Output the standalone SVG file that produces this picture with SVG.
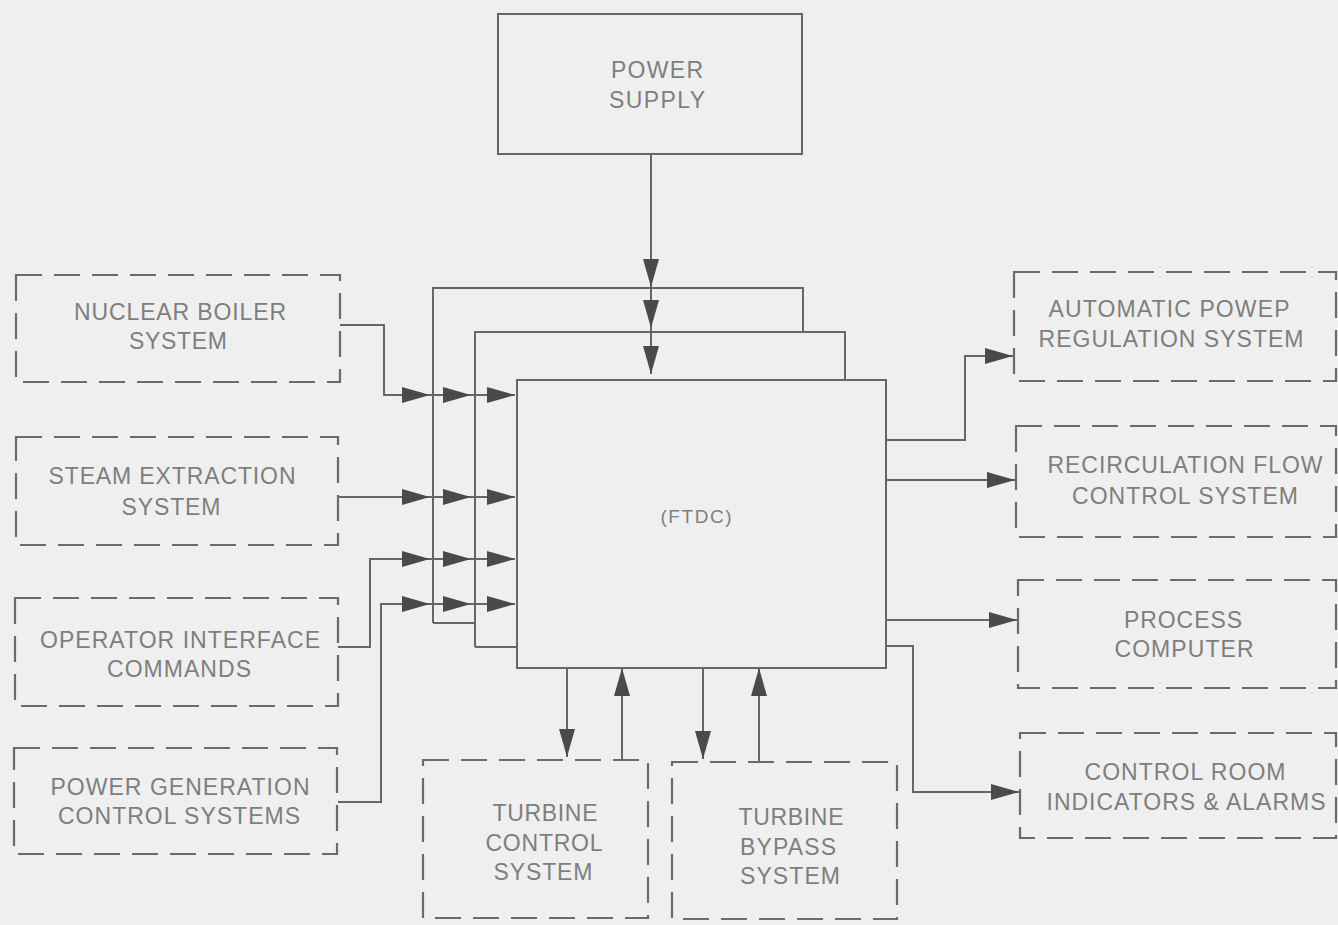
<svg xmlns="http://www.w3.org/2000/svg" width="1338" height="925" viewBox="0 0 1338 925">
<style>
.solid{fill:none;stroke:#666;stroke-width:2}
.dash{fill:none;stroke:#6a6a6a;stroke-width:2.2;stroke-dasharray:26 12}
.wire{fill:none;stroke:#666;stroke-width:2}
.arr{fill:none;stroke:#666;stroke-width:2;marker-end:url(#ah)}
text{font-family:"Liberation Sans",Arial,sans-serif;font-size:23px;fill:#7e7e7e;text-anchor:middle;dominant-baseline:central}
.small{font-size:19px}
</style>
<defs>
<marker id="ah" markerUnits="userSpaceOnUse" markerWidth="28" markerHeight="18" refX="28" refY="9" orient="auto">
<path d="M0,1 L28,9 L0,17 z" fill="#4a4a4a"/>
</marker>
</defs>
<rect width="1338" height="925" fill="#efefef"/>

<g id="connectors">
<line class="arr" x1="651" y1="154" x2="651" y2="287"/>
<line class="arr" x1="651" y1="287" x2="651" y2="328"/>
<line class="arr" x1="651" y1="328" x2="651" y2="374"/>
<path class="arr" d="M340,325 H384 V395 H430"/>
<line class="arr" x1="430" y1="395" x2="471" y2="395"/>
<line class="arr" x1="471" y1="395" x2="515" y2="395"/>
<path class="arr" d="M338,497 H430"/>
<line class="arr" x1="430" y1="497" x2="471" y2="497"/>
<line class="arr" x1="471" y1="497" x2="515" y2="497"/>
<path class="arr" d="M338,647 H370 V559 H430"/>
<line class="arr" x1="430" y1="559" x2="471" y2="559"/>
<line class="arr" x1="471" y1="559" x2="515" y2="559"/>
<path class="arr" d="M338,802 H381 V604 H430"/>
<line class="arr" x1="430" y1="604" x2="471" y2="604"/>
<line class="arr" x1="471" y1="604" x2="515" y2="604"/>
<path class="arr" d="M886,440 H965 V356 H1013"/>
<path class="arr" d="M886,480 H1015"/>
<path class="arr" d="M886,620 H1017"/>
<path class="arr" d="M886,646 H913 V792 H1019"/>
<line class="arr" x1="567" y1="668" x2="567" y2="757"/>
<line class="arr" x1="622" y1="760" x2="622" y2="668"/>
<line class="arr" x1="703" y1="668" x2="703" y2="759"/>
<line class="arr" x1="759" y1="762" x2="759" y2="668"/>
</g>

<g id="power-supply">
<rect class="solid" x="498" y="14" width="304" height="140"/>
<text x="657" y="70" textLength="92" lengthAdjust="spacing">POWER</text>
<text x="657" y="100" textLength="96" lengthAdjust="spacing">SUPPLY</text>
</g>

<g id="ftdc">
<path class="solid" d="M433,623 V288 H803 V332"/>
<path class="solid" d="M475,647 V332 H845 V380"/>
<line class="solid" x1="433" y1="623" x2="475" y2="623"/>
<line class="solid" x1="475" y1="647" x2="517" y2="647"/>
<rect class="solid" x="517" y="380" width="369" height="288" fill="#efefef"/>
<text class="small" x="696" y="516" textLength="71" lengthAdjust="spacing">(FTDC)</text>
</g>

<g id="nuclear-boiler">
<rect class="dash" x="16" y="275" width="324" height="107"/>
<text x="180" y="312" textLength="212" lengthAdjust="spacing">NUCLEAR BOILER</text>
<text x="178" y="341" textLength="98" lengthAdjust="spacing">SYSTEM</text>
</g>

<g id="steam-extraction">
<rect class="dash" x="16" y="437" width="322" height="108"/>
<text x="172" y="476" textLength="247" lengthAdjust="spacing">STEAM EXTRACTION</text>
<text x="171" y="507" textLength="99" lengthAdjust="spacing">SYSTEM</text>
</g>

<g id="operator-interface">
<rect class="dash" x="15" y="598" width="323" height="108"/>
<text x="180" y="640" textLength="280" lengthAdjust="spacing">OPERATOR INTERFACE</text>
<text x="179" y="669" textLength="144" lengthAdjust="spacing">COMMANDS</text>
</g>

<g id="power-generation">
<rect class="dash" x="14" y="748" width="323" height="106"/>
<text x="180" y="787" textLength="259" lengthAdjust="spacing">POWER GENERATION</text>
<text x="179" y="816" textLength="242" lengthAdjust="spacing">CONTROL SYSTEMS</text>
</g>

<g id="automatic-power">
<rect class="dash" x="1014" y="272" width="322" height="109"/>
<text x="1169" y="309" textLength="241" lengthAdjust="spacing">AUTOMATIC POWEP</text>
<text x="1171" y="339" textLength="265" lengthAdjust="spacing">REGULATION SYSTEM</text>
</g>

<g id="recirculation-flow">
<rect class="dash" x="1016" y="426" width="320" height="111"/>
<text x="1185" y="465" textLength="275" lengthAdjust="spacing">RECIRCULATION FLOW</text>
<text x="1185" y="496" textLength="226" lengthAdjust="spacing">CONTROL SYSTEM</text>
</g>

<g id="process-computer">
<rect class="dash" x="1018" y="580" width="318" height="108"/>
<text x="1183" y="620" textLength="118" lengthAdjust="spacing">PROCESS</text>
<text x="1184" y="649" textLength="139" lengthAdjust="spacing">COMPUTER</text>
</g>

<g id="control-room">
<rect class="dash" x="1020" y="733" width="316" height="105"/>
<text x="1185" y="772" textLength="201" lengthAdjust="spacing">CONTROL ROOM</text>
<text x="1186" y="802" textLength="279" lengthAdjust="spacing">INDICATORS &amp; ALARMS</text>
</g>

<g id="turbine-control">
<rect class="dash" x="423" y="760" width="225" height="158"/>
<text x="545" y="813" textLength="105" lengthAdjust="spacing">TURBINE</text>
<text x="544" y="843" textLength="117" lengthAdjust="spacing">CONTROL</text>
<text x="543" y="872" textLength="99" lengthAdjust="spacing">SYSTEM</text>
</g>

<g id="turbine-bypass">
<rect class="dash" x="672" y="762" width="225" height="157"/>
<text x="791" y="817" textLength="105" lengthAdjust="spacing">TURBINE</text>
<text x="788" y="847" textLength="96" lengthAdjust="spacing">BYPASS</text>
<text x="790" y="876" textLength="100" lengthAdjust="spacing">SYSTEM</text>
</g>
</svg>
